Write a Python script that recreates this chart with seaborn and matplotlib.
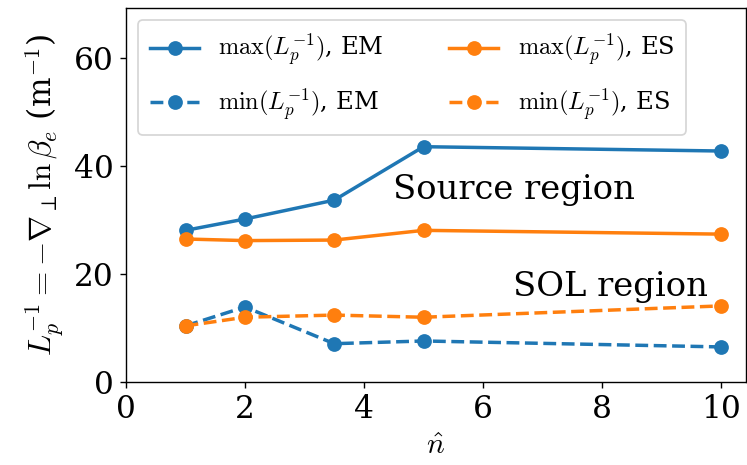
import matplotlib
matplotlib.use("Agg")
import matplotlib.pyplot as plt
import seaborn as sns
import pandas as pd

plt.rcParams['font.family'] = ['DejaVu Serif']
plt.rcParams['mathtext.fontset'] = 'cm'

n_hat = [1, 2, 3.5, 5, 10]
em_max = [28.1, 30.2, 33.7, 43.6, 42.8]
es_max = [26.5, 26.2, 26.3, 28.1, 27.4]
em_min = [10.4, 13.9, 7.1, 7.6, 6.5]
es_min = [10.4, 12.0, 12.4, 12.0, 14.1]

labels = [r"$\mathrm{max}(L_p^{-1})$, EM", r"$\mathrm{min}(L_p^{-1})$, EM",
          r"$\mathrm{max}(L_p^{-1})$, ES", r"$\mathrm{min}(L_p^{-1})$, ES"]
series = [em_max, em_min, es_max, es_min]
colors = ["#1f77b4", "#1f77b4", "#ff7f0e", "#ff7f0e"]
styles = ["-", "--", "-", "--"]

DPI = 125
fig = plt.figure(figsize=(747/DPI, 465/DPI), dpi=DPI)
ax = fig.add_axes([126/747, 1 - 382/465, (746-126)/747, (382-8)/465])

for lab, ys, c, ls in zip(labels, series, colors, styles):
    df = pd.DataFrame({"n": n_hat, "y": ys})
    sns.lineplot(data=df, x="n", y="y", ax=ax, color=c, linestyle=ls,
                 marker="o", markersize=8.5, markeredgewidth=0, linewidth=2,
                 label=lab)

ax.set_xlim(0, 10.42)
ax.set_ylim(0, 69.3)
ax.set_xticks([0, 2, 4, 6, 8, 10])
ax.set_yticks([0, 20, 40, 60])
ax.tick_params(labelsize=18)
ax.set_xlabel(r"$\hat{n}$", fontsize=17)
ax.set_ylabel(r"$L_p^{-1} = -\nabla_\perp \ln \beta_e$ (m$^{-1}$)", fontsize=18)

ax.text(4.48, 35.5, "Source region", fontsize=19.5, va="center", ha="left")
ax.text(6.5, 17.6, "SOL region", fontsize=19.5, va="center", ha="left")

ax.legend(loc="upper left", ncol=2, fontsize=14, labelspacing=0.75,
          borderpad=0.5, columnspacing=2.7)

fig.savefig("out.png", dpi=DPI)
